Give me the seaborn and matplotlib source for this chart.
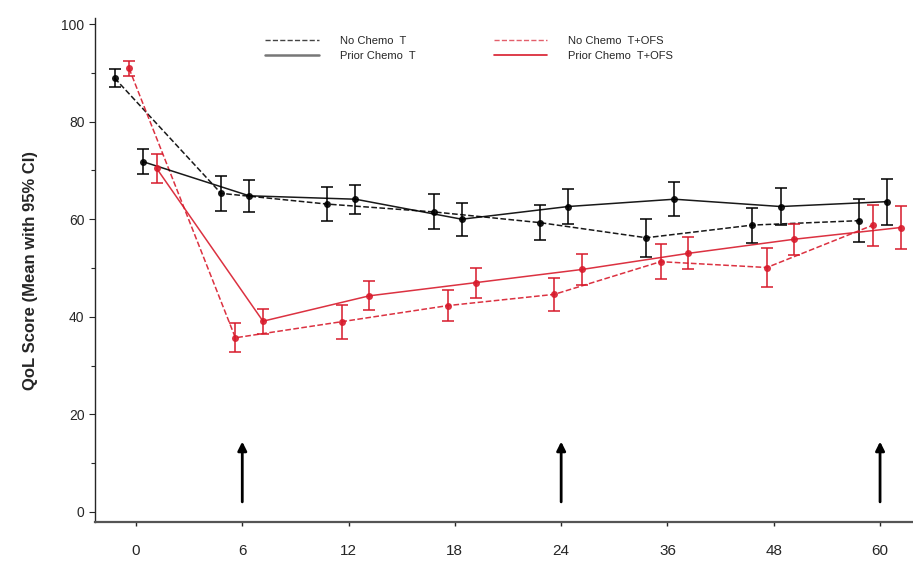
import numpy as np
import pandas as pd
import seaborn as sns
import matplotlib.pyplot as plt
from matplotlib.lines import Line2D
from matplotlib.ticker import MultipleLocator

# months of follow-up (categorical axis)
months = [0, 6, 12, 18, 24, 36, 48, 60]

# mean QoL score and 95% CI half-width per group
no_chemo_t = [88.9, 65.3, 63.1, 61.5, 59.3, 56.2, 58.8, 59.7]
no_chemo_t_ci = [1.9, 3.6, 3.5, 3.6, 3.6, 3.9, 3.6, 4.4]
prior_chemo_t = [71.8, 64.8, 64.1, 60.0, 62.6, 64.1, 62.6, 63.6]
prior_chemo_t_ci = [2.6, 3.3, 3.0, 3.4, 3.5, 3.5, 3.8, 4.7]
no_chemo_tofs = [90.9, 35.7, 39.0, 42.3, 44.6, 51.3, 50.1, 58.8]
no_chemo_tofs_ci = [1.5, 3.0, 3.5, 3.2, 3.4, 3.6, 3.9, 4.2]
prior_chemo_tofs = [70.4, 39.1, 44.3, 47.0, 49.7, 53.0, 55.9, 58.3]
prior_chemo_tofs_ci = [3.0, 2.6, 3.0, 3.1, 3.2, 3.3, 3.2, 4.4]

arrow_months = [6, 24, 60]

RED = '#d81b2c'
groups = [
    # label, values, ci, colour, linestyle, dodge
    ("No Chemo  T", no_chemo_t, no_chemo_t_ci, 'black', '--', -0.20),
    ("No Chemo  T+OFS", no_chemo_tofs, no_chemo_tofs_ci, RED, '--', -0.065),
    ("Prior Chemo  T", prior_chemo_t, prior_chemo_t_ci, 'black', '-', 0.065),
    ("Prior Chemo  T+OFS", prior_chemo_tofs, prior_chemo_tofs_ci, RED, '-', 0.195),
]

rows = []
for label, vals, ci, color, ls, off in groups:
    for i, (m, v, c) in enumerate(zip(months, vals, ci)):
        rows.append({"group": label, "pos": i + off, "score": v, "ci": c})
df = pd.DataFrame(rows)

sns.set_style("ticks")
plt.rcParams['font.family'] = ['Liberation Sans', 'DejaVu Sans']

fig = plt.figure(figsize=(9.13, 5.68), dpi=100)
ax = fig.add_axes([0.104, 0.081, 0.896, 0.887])

for label, vals, ci, color, ls, off in groups:
    sub = df[df["group"] == label]
    sns.lineplot(data=sub, x="pos", y="score", ax=ax, color=color,
                 linestyle=ls, linewidth=1.1, marker='o', markersize=5,
                 markeredgewidth=0, legend=False, alpha=0.9)
    ax.errorbar(sub["pos"], sub["score"], yerr=sub["ci"], fmt='none',
                ecolor=color, elinewidth=1.3, capsize=4.5, capthick=1.3,
                alpha=0.85)

# assessment arrows
for m in arrow_months:
    i = months.index(m)
    ax.annotate("", xy=(i, 15.0), xytext=(i, 1.5),
                arrowprops=dict(arrowstyle='-|>', color='black', lw=2.0,
                                mutation_scale=13))

ax.set_xlim(-0.386, 7.31)
ax.set_ylim(-2.05, 101.2)
ax.set_xticks(range(len(months)))
ax.set_xticklabels([str(m) for m in months], fontsize=11)
ax.yaxis.set_major_locator(MultipleLocator(20))
ax.yaxis.set_minor_locator(MultipleLocator(10))
ax.tick_params(axis='y', labelsize=10, length=4, width=0.8)
ax.tick_params(axis='y', which='minor', length=3, width=0.8)
ax.tick_params(axis='x', length=3, width=1, pad=13)
ax.set_xlabel("")
ax.set_ylabel("QoL Score (Mean with 95% CI)", fontsize=12, fontweight='bold',
              labelpad=17)
sns.despine(ax=ax)
ax.spines['left'].set_linewidth(1.0)
ax.spines['bottom'].set_linewidth(1.6)
ax.spines['bottom'].set_color('#555555')

handles = [
    Line2D([], [], color='#444444', linestyle='--', linewidth=1.0),
    Line2D([], [], color='#777777', linestyle='-', linewidth=1.8),
    Line2D([], [], color=RED, linestyle='--', linewidth=1.0, alpha=0.7),
    Line2D([], [], color=RED, linestyle='-', linewidth=1.2),
]
labels = ["No Chemo  T", "Prior Chemo  T", "No Chemo  T+OFS", "Prior Chemo  T+OFS"]
ax.legend(handles, labels, ncol=2, frameon=False, fontsize=8,
          loc='upper left', bbox_to_anchor=(0.196, 0.985), handlelength=4.8,
          handletextpad=1.9, columnspacing=7.05, labelspacing=0.45)

fig.savefig("out.png", dpi=100)
